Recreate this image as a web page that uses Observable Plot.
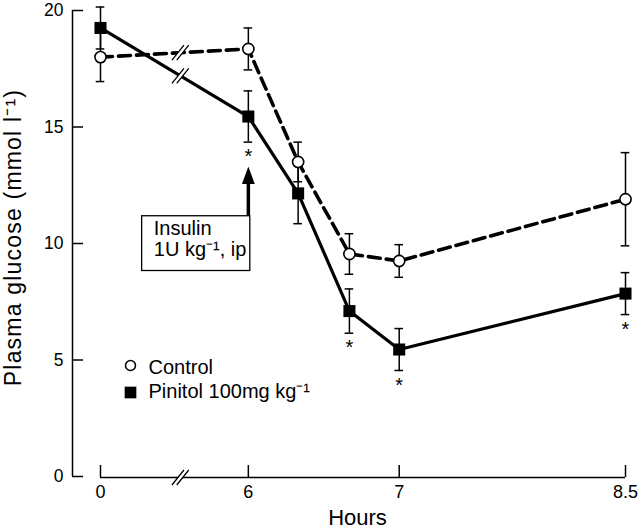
<!DOCTYPE html>
<html><head><meta charset="utf-8">
<script src="https://cdn.jsdelivr.net/npm/d3@7"></script>
<script src="https://cdn.jsdelivr.net/npm/@observablehq/plot@0.6"></script>
<style>body{margin:0;background:#fff}</style>
</head><body><div id="chart"></div>
<script>
// ---- data ----
const hours = [0, 6, 6.33, 6.67, 7, 8.5];
const controlMean = [18.0, 18.35, 13.5, 9.55, 9.25, 11.9];
const controlSE = [1.05, 0.9, 0.85, 0.87, 0.7, 2.0];
const pinitolMean = [19.25, 15.45, 12.15, 7.1, 5.45, 7.85];
const pinitolSE = [0.9, 1.1, 1.3, 0.95, 0.9, 0.9];
const pinitolSignificant = [false, true, false, true, true, true];
const xTicks = [0, 6, 7, 8.5];
const yTicks = [0, 5, 10, 15, 20];
const seriesNames = ["Control", "Pinitol 100mg kg\u207B\u00B9"];
const insulinLabel = "Insulin\n1U kg\u207B\u00B9, ip";
const insulinTime = 6;
const xLabel = "Hours";
const yLabel = "Plasma glucose (mmol l\u207B\u00B9)";

// ---- broken time axis: 0 h, then 6 h onward ----
const GAP = 0.98;
const pos = t => t === 0 ? 0 : t - 6 + GAP;
const xMax = pos(8.5);
const xMin = -0.1856;

const control = hours.map((t, i) => ({t, m: controlMean[i], se: controlSE[i]}));
const pinitol = hours.map((t, i) => ({t, m: pinitolMean[i], se: pinitolSE[i], sig: pinitolSignificant[i]}));

// break marks on the segment 0 -> 6 h
const frac = 0.54;
const breakAt = s => ({x: frac * pos(s[1].t), y: s[0].m + frac * (s[1].m - s[0].m)});
const lineBreaks = [breakAt(control), breakAt(pinitol)];
const axisBreak = [{x: frac * pos(6), y: 0}];

const breakFill = {draw(ctx, size) {
  const k = Math.sqrt(size / Math.PI) / 10, a = 6 * k, b = 7.5 * k, g = 2.4 * k;
  ctx.moveTo(-g - a, b); ctx.lineTo(-g + a, -b); ctx.lineTo(g + a, -b); ctx.lineTo(g - a, b); ctx.closePath();
}};
const breakLines = {draw(ctx, size) {
  const k = Math.sqrt(size / Math.PI) / 10, a = 6 * k, b = 7.5 * k, g = 2.4 * k;
  ctx.moveTo(-g - a, b); ctx.lineTo(-g + a, -b);
  ctx.moveTo(g - a, b); ctx.lineTo(g + a, -b);
}};
const arrowHead = {draw(ctx, size) {
  const k = Math.sqrt(size / Math.PI) / 10;
  ctx.moveTo(0, 0); ctx.lineTo(-6.4 * k, 17.5 * k); ctx.lineTo(6.4 * k, 17.5 * k); ctx.closePath();
}};

const xOf = d => pos(d.t);
const font = "'Liberation Sans', Arial, Helvetica, sans-serif";

function errorMarks(data) {
  return [
    Plot.ruleX(data, {x: xOf, y1: d => d.m - d.se, y2: d => d.m + d.se, strokeWidth: 1.5}),
    Plot.ruleY(data, {y: d => d.m + d.se, x1: xOf, x2: xOf, insetLeft: -4.3, insetRight: -4.3, strokeWidth: 1.5}),
    Plot.ruleY(data, {y: d => d.m - d.se, x1: xOf, x2: xOf, insetLeft: -4.3, insetRight: -4.3, strokeWidth: 1.5})
  ];
}

const chart = Plot.plot({
  width: 640,
  height: 530,
  marginTop: 10,
  marginBottom: 54,
  marginLeft: 72,
  marginRight: 15,
  style: {fontFamily: font, fontSize: "18px", background: "white", color: "black"},
  x: {domain: [xMin, xMax], label: null},
  y: {domain: [0, 20], label: null},
  marks: [
    // y axis
    Plot.ruleX([xMin], {y1: 0, y2: 20, strokeWidth: 1.5}),
    Plot.ruleY(yTicks, {y: d => d, x1: xMin, x2: xMin, insetRight: -11, strokeWidth: 1.5}),
    Plot.axisY(yTicks, {tickSize: 0, tickPadding: 9, fontSize: 17.5, label: null}),
    // x axis
    Plot.ruleY([0], {x1: 0, x2: xMax, dy: 1, strokeWidth: 1.5}),
    Plot.ruleX(xTicks, {x: pos, y1: 0, y2: 0, dy: 1, insetBottom: 12, strokeWidth: 1.5}),
    Plot.axisX(xTicks.map(pos), {tickSize: 0, tickPadding: 9, fontSize: 18, label: null,
      tickFormat: v => String(xTicks[xTicks.map(pos).indexOf(v)])}),
    Plot.dot(axisBreak, {x: "x", y: "y", dy: 1, r: 10, symbol: breakFill, fill: "white", stroke: "none"}),
    Plot.dot(axisBreak, {x: "x", y: "y", dy: 1, r: 10, symbol: breakLines, fill: "none", stroke: "black", strokeWidth: 1.3}),
    // error bars
    ...errorMarks(control),
    ...errorMarks(pinitol),
    // lines
    Plot.line(pinitol, {x: xOf, y: "m", stroke: "black", strokeWidth: 3.2}),
    Plot.line(control, {x: xOf, y: "m", stroke: "black", strokeWidth: 3.6, strokeDasharray: "12,6"}),
    // line breaks
    Plot.dot(lineBreaks, {x: "x", y: "y", r: 10, symbol: breakFill, fill: "white", stroke: "none"}),
    Plot.dot(lineBreaks, {x: "x", y: "y", r: 10, symbol: breakLines, fill: "none", stroke: "black", strokeWidth: 1.3}),
    // markers
    Plot.dot(pinitol, {x: xOf, y: "m", symbol: "square", r: 6.8, fill: "black", stroke: "none"}),
    Plot.dot(control, {x: xOf, y: "m", symbol: "circle", r: 5.6, fill: "white", stroke: "black", strokeWidth: 1.6}),
    // significance
    Plot.text(pinitol.filter(d => d.sig), {x: xOf, y: d => d.m - d.se, text: () => "*", lineAnchor: "top", dy: 7, fontSize: 20}),
    // insulin annotation
    Plot.ruleX([insulinTime], {x: pos, y1: 11.17, y2: 12.6, strokeWidth: 3.5}),
    Plot.dot([insulinTime], {x: pos, y: 13.3, r: 10, symbol: arrowHead, fill: "black", stroke: "none"}),
    Plot.rect([insulinTime], {x1: t => pos(t) - 0.704, x2: t => pos(t) + 0.013, y1: 8.82, y2: 11.17, fill: "none", stroke: "black", strokeWidth: 1.3}),
    Plot.text([insulinLabel], {x: pos(insulinTime) - 0.627, y: 9.47, text: d => d, textAnchor: "start", lineAnchor: "bottom", lineHeight: 1.05, fontSize: 20}),
    // legend
    Plot.dot([seriesNames[0]], {frameAnchor: "top-left", dx: 58, dy: 355, symbol: "circle", r: 5, fill: "white", stroke: "black", strokeWidth: 1.5}),
    Plot.dot([seriesNames[1]], {frameAnchor: "top-left", dx: 58, dy: 382, symbol: "square", r: 6.6, fill: "black", stroke: "none"}),
    Plot.text([seriesNames[0]], {frameAnchor: "top-left", dx: 76, dy: 363, text: d => d, textAnchor: "start", lineAnchor: "bottom", fontSize: 20}),
    Plot.text([seriesNames[1]], {frameAnchor: "top-left", dx: 76, dy: 387, text: d => d, textAnchor: "start", lineAnchor: "bottom", fontSize: 20}),
    // axis titles
    Plot.text([xLabel], {frameAnchor: "bottom", dx: 8.5, dy: 48, text: d => d, textAnchor: "middle", lineAnchor: "bottom", fontSize: 22}),
    Plot.text([yLabel], {frameAnchor: "left", dx: -58.5, dy: -6, rotate: -90, text: d => d, textAnchor: "middle", lineAnchor: "middle", fontSize: 23})
  ]
});
// slightly wider tracking for the y-axis title, as in the reference
chart.querySelectorAll("text").forEach(t => {
  if (t.textContent === yLabel) t.style.letterSpacing = "1.2px";
});
document.getElementById("chart").appendChild(chart);
</script>
</body></html>
